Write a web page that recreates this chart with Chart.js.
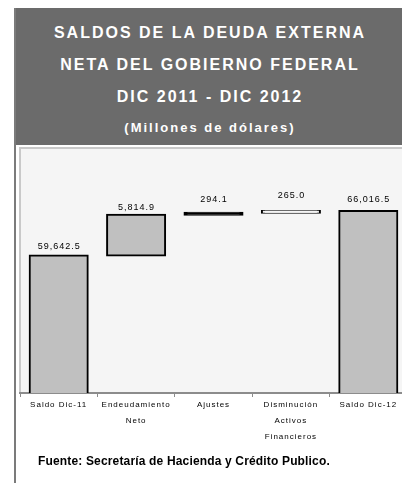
<!DOCTYPE html>
<html><head><meta charset="utf-8">
<script src="https://cdn.jsdelivr.net/npm/chart.js@4/dist/chart.umd.min.js"></script>
<style>
html,body{margin:0;padding:0;width:402px;height:483px;overflow:hidden;background:#fff;font-family:"Liberation Sans",Arial,sans-serif;}
#frame{position:absolute;left:14px;top:8px;width:2px;height:475px;background:#7b7b7b;}
#head{position:absolute;left:14px;top:8px;width:388px;height:137px;background:#6b6b6b;color:#fff;text-align:center;font-weight:bold;}
.t{position:absolute;left:0;width:100%;padding-left:4px;box-sizing:border-box;font-size:16px;letter-spacing:2px;line-height:20px;white-space:nowrap;}
.s{font-size:13px;line-height:16px;letter-spacing:2px;}
#foot{position:absolute;left:38px;top:454px;font-size:12px;font-weight:bold;line-height:14px;color:#000;white-space:nowrap;letter-spacing:0.16px;}
#c{position:absolute;left:16px;top:145px;}
</style></head>
<body>
<div id="head">
  <div class="t" style="top:15px">SALDOS DE LA DEUDA EXTERNA</div>
  <div class="t" style="top:47px">NETA DEL GOBIERNO FEDERAL</div>
  <div class="t" style="top:79px">DIC 2011 - DIC 2012</div>
  <div class="t s" style="top:112px">(Millones de dólares)</div>
</div>
<div id="frame"></div>
<canvas id="c" width="400" height="338"></canvas>
<div id="foot">Fuente: Secretaría de Hacienda y Crédito Publico.</div>
<script>
const categories = [["Saldo Dic-11"], ["Endeudamiento", "Neto"], ["Ajustes"], ["Disminución", "Activos", "Financieros"], ["Saldo Dic-12"]];
const values = [59642.5, 5814.9, 294.1, 265.0, 66016.5];
const kinds = ["total", "delta", "delta", "delta", "total"];
const yMin = 40000;
const yMax = 75000;

// floating ranges for the waterfall
let running = 0;
const ranges = values.map((v, i) => {
  if (kinds[i] === "total") { running = v; return [0, v]; }
  const r = [running, running + v]; running += v; return r;
});

const bgPlugin = {
  id: 'bg',
  beforeUpdate(chart) { chart.ctx.letterSpacing = '1px'; },
  beforeDraw(chart) {
    const {ctx, chartArea: a} = chart;
    ctx.letterSpacing = '1px';
    ctx.save();
    ctx.fillStyle = '#f5f5f5';
    ctx.fillRect(a.left, a.top, a.right - a.left, a.bottom - a.top);
    ctx.strokeStyle = '#c9c9c9';
    ctx.lineWidth = 2;
    ctx.beginPath();
    ctx.moveTo(a.left, a.bottom);
    ctx.lineTo(a.left, a.top);
    ctx.lineTo(chart.width, a.top);
    ctx.stroke();
    ctx.restore();
  }
};

const labelPlugin = {
  id: 'vlabels',
  afterDatasetsDraw(chart, args, opts) {
    const ctx = chart.ctx;
    const meta = chart.getDatasetMeta(0);
    ctx.save();
    ctx.font = '9px "Liberation Sans", Arial, sans-serif';
    ctx.letterSpacing = '1px';
    ctx.fillStyle = '#000';
    ctx.textAlign = 'center';
    ctx.textBaseline = 'middle';
    meta.data.forEach((el, i) => {
      const top = Math.min(el.y, el.base);
      const txt = values[i].toLocaleString('en-US', {minimumFractionDigits: 1, maximumFractionDigits: 1});
      ctx.fillText(txt, el.x + 0.5, top - opts.offsets[i]);
    });
    ctx.restore();
  }
};

new Chart(document.getElementById('c'), {
  type: 'bar',
  data: {
    labels: categories,
    datasets: [{
      data: ranges,
      backgroundColor: ['#c0c0c0', '#c0c0c0', '#000', '#f5f5f5', '#c0c0c0'],
      borderColor: '#000',
      borderWidth: 2,
      borderSkipped: false,
      inflateAmount: 1,
      barPercentage: 0.75,
      categoryPercentage: 1,
      clip: {left: false, right: false, top: false, bottom: 0}
    }]
  },
  options: {
    responsive: false,
    animation: false,
    layout: {padding: {left: 4, right: 9, top: 3, bottom: 0}},
    plugins: {
      legend: {display: false},
      tooltip: {enabled: false},
      title: {display: false},
      vlabels: {offsets: [9, 7, 13, 15, 11]}
    },
    scales: {
      x: {
        offset: true,
        grid: {display: true, drawOnChartArea: false, drawTicks: true, tickLength: 4, offset: true, color: '#8c8c8c', lineWidth: 1},
        border: {display: true, color: '#8c8c8c', width: 2},
        ticks: {font: {size: 8, family: '"Liberation Sans", Arial, sans-serif', lineHeight: 2}, color: '#000', padding: 0, maxRotation: 0, autoSkip: false},
        afterFit(scale) { scale.height = 90; }
      },
      y: {display: false, min: yMin, max: yMax}
    }
  },
  plugins: [bgPlugin, labelPlugin]
});
</script>
</body></html>
